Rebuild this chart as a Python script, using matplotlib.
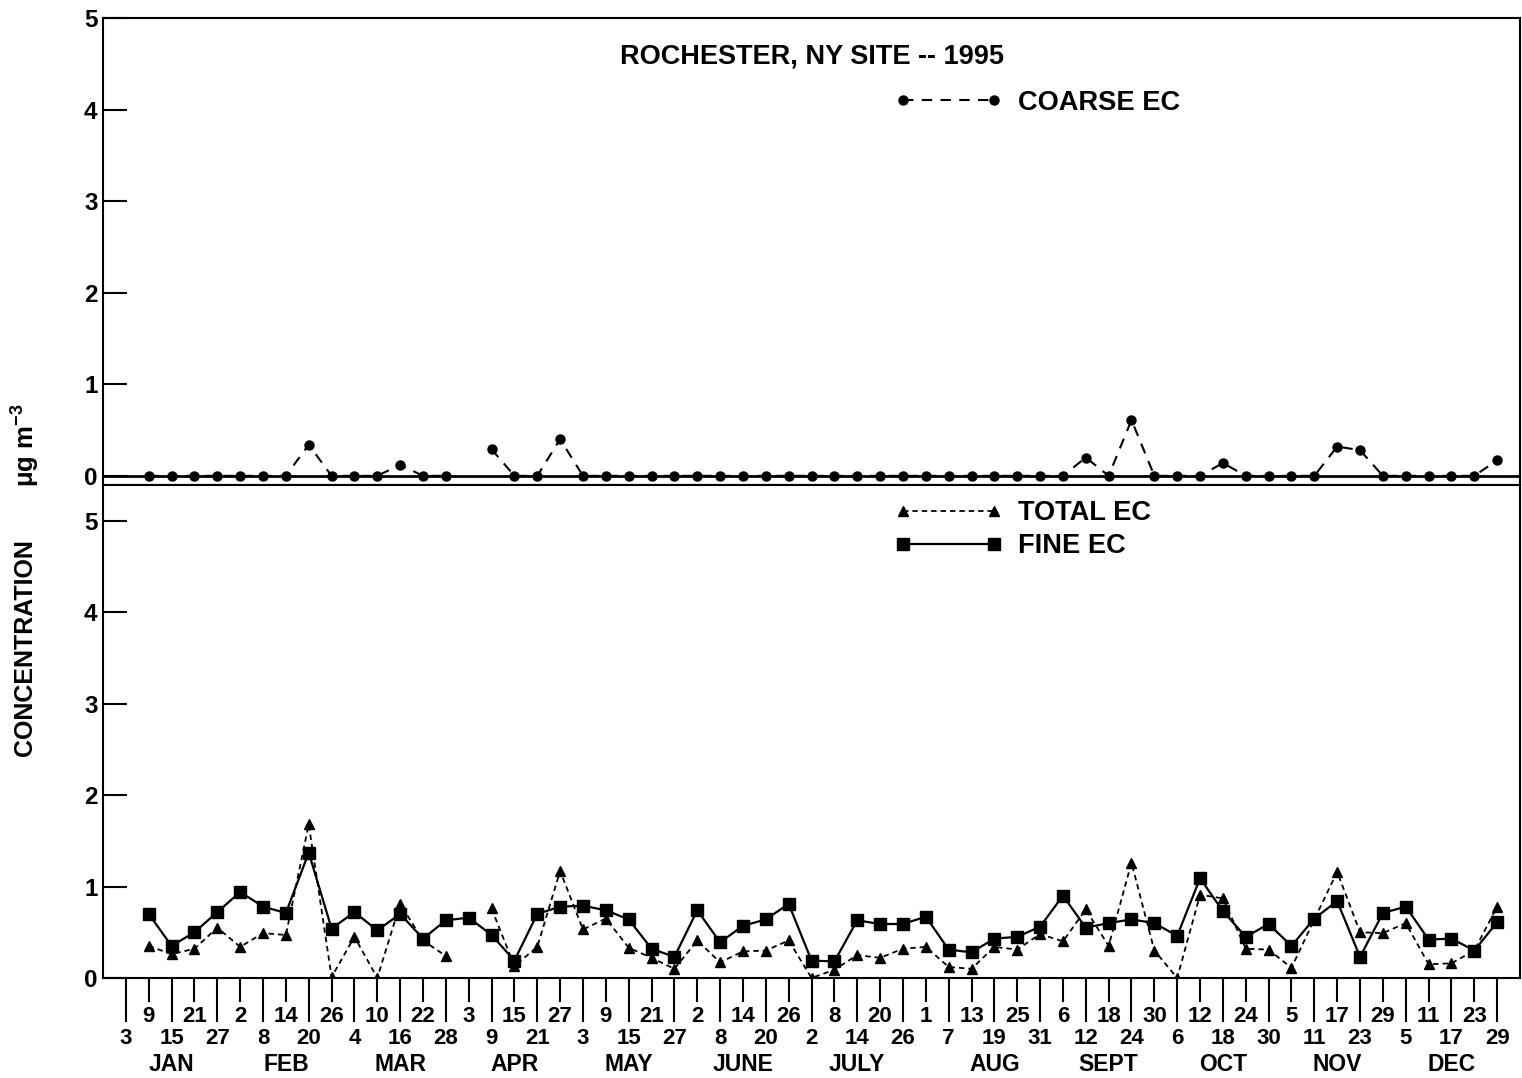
import numpy as np
import pandas as pd
import matplotlib
matplotlib.use('Agg')
import matplotlib.pyplot as plt
import matplotlib.transforms as mtransforms
from matplotlib.lines import Line2D

plt.rcParams['font.family'] = ['Liberation Sans', 'DejaVu Sans']
plt.rcParams['font.weight'] = 'bold'
plt.rcParams['mathtext.fontset'] = 'custom'
plt.rcParams['mathtext.rm'] = 'Liberation Sans:bold'

# every-6th-day sampling, Jan 3 - Dec 29 1995
dates = pd.date_range('1995-01-03', '1995-12-29', freq='6D')
month_names = ['JAN', 'FEB', 'MAR', 'APR', 'MAY', 'JUNE', 'JULY', 'AUG',
               'SEPT', 'OCT', 'NOV', 'DEC']

nan = np.nan
coarse_ec = [nan, 0, 0, 0, 0, 0, 0, 0, 0.34, 0,
             0, 0, 0.12, 0, 0, nan, 0.29, 0, 0, 0.40,
             0, 0, 0, 0, 0, 0, 0, 0, 0, 0,
             0, 0, 0, 0, 0, 0, 0, 0, 0, 0,
             0, 0, 0.20, 0, 0.61, 0, 0, 0, 0.14, 0,
             0, 0, 0, 0.32, 0.28, 0, 0, 0, 0, 0,
             0.17]
total_ec = [nan, 0.35, 0.26, 0.32, 0.55, 0.34, 0.49, 0.47, 1.68, 0.01,
            0.45, 0.00, 0.81, 0.41, 0.24, nan, 0.76, 0.13, 0.34, 1.17,
            0.53, 0.65, 0.33, 0.22, 0.10, 0.41, 0.17, 0.29, 0.30, 0.41,
            0.00, 0.09, 0.25, 0.22, 0.32, 0.34, 0.12, 0.10, 0.34, 0.31,
            0.48, 0.40, 0.75, 0.35, 1.26, 0.30, 0.00, 0.91, 0.87, 0.32,
            0.31, 0.11, 0.64, 1.16, 0.50, 0.49, 0.60, 0.15, 0.16, 0.30,
            0.78]
fine_ec = [nan, 0.70, 0.35, 0.50, 0.72, 0.94, 0.78, 0.71, 1.37, 0.54,
           0.72, 0.52, 0.70, 0.43, 0.63, 0.66, 0.47, 0.19, 0.70, 0.78,
           0.79, 0.74, 0.64, 0.32, 0.23, 0.74, 0.39, 0.57, 0.64, 0.81,
           0.19, 0.18, 0.63, 0.59, 0.59, 0.67, 0.31, 0.28, 0.43, 0.45,
           0.56, 0.90, 0.55, 0.60, 0.64, 0.60, 0.46, 1.09, 0.73, 0.45,
           0.59, 0.35, 0.65, 0.84, 0.23, 0.71, 0.78, 0.42, 0.43, 0.30,
           0.61]

day = dates.dayofyear.values

fig = plt.figure(figsize=(15.22, 10.78), dpi=100)
ax1 = fig.add_axes([0.0677, 0.5501, 0.9310, 0.4332])
ax2 = fig.add_axes([0.0677, 0.0928, 0.9310, 0.4573], sharex=ax1)

# top panel: coarse EC
ax1.axhline(0, color='k', lw=2)
ax1.plot(day, coarse_ec, color='k', ls='--', dashes=(5, 4), lw=1.5,
         marker='o', ms=6.5)
ax1.set_ylim(-0.1, 5)
ax1.set_yticks(range(6))
ax1.tick_params(axis='y', direction='in', length=17, width=1.5, pad=4,
                labelsize=17.5)
ax1.tick_params(axis='x', which='both', bottom=False, labelbottom=False)
ax1.text(0.5, 0.917, 'ROCHESTER, NY SITE -- 1995', transform=ax1.transAxes,
         ha='center', va='center', fontsize=19.5)
h_coarse = Line2D([], [], color='k', ls='--', dashes=(5, 4), lw=1.5,
                  marker='o', ms=6.5)
ax1.legend([h_coarse], ['COARSE EC'], loc='center left',
           bbox_to_anchor=(0.559, 0.818), frameon=False, numpoints=2,
           handlelength=3.95, handletextpad=0.56, borderpad=0,
           borderaxespad=0, prop={'size': 19.6, 'weight': 'bold'})

# bottom panel: total and fine EC
ax2.plot(day, total_ec, color='k', ls='--', dashes=(3, 2.2), lw=1.3,
         marker='^', ms=6.5)
ax2.plot(day, fine_ec, color='k', ls='-', lw=1.6, marker='s', ms=8.5)
ax2.set_ylim(0, 5.39)
ax2.set_yticks(range(6))
ax2.tick_params(axis='y', direction='in', length=17, width=1.5, pad=4,
                labelsize=17.5)
h_total = Line2D([], [], color='k', ls='--', dashes=(3, 2.2), lw=1.3,
                 marker='^', ms=6.5)
h_fine = Line2D([], [], color='k', ls='-', lw=1.6, marker='s', ms=8.5)
ax2.legend([h_total, h_fine], ['TOTAL EC', 'FINE EC'], loc='center left',
           bbox_to_anchor=(0.559, 0.909), frameon=False, numpoints=2,
           handlelength=3.95, handletextpad=0.56, borderpad=0,
           borderaxespad=0, labelspacing=0.25,
           prop={'size': 19.6, 'weight': 'bold'})

# staggered day-of-month tick labels
ax2.set_xlim(day[0] - 6, day[-1] + 6)
ax2.set_xticks(day[::2])
ax2.set_xticklabels([str(d) for d in dates.day[::2]])
ax2.set_xticks(day[1::2], minor=True)
ax2.set_xticklabels([str(d) for d in dates.day[1::2]], minor=True)
ax2.tick_params(axis='x', which='major', direction='out', length=32,
                width=1.5, pad=4, labelsize=16)
ax2.tick_params(axis='x', which='minor', direction='out', length=17,
                width=1.5, pad=3, labelsize=16)

# month names under the middle sample of each month
trans = mtransforms.blended_transform_factory(ax2.transData, ax2.transAxes)
for m, name in enumerate(month_names, start=1):
    sub = day[dates.month == m]
    ax2.text(sub[len(sub) // 2], -0.175, name, transform=trans,
             ha='center', va='center', fontsize=16.5)

for ax in (ax1, ax2):
    for s in ax.spines.values():
        s.set_linewidth(1.5)

fig.text(0.0164, 0.399, 'CONCENTRATION', rotation=90, ha='center',
         va='center', fontsize=18)
fig.text(0.0164, 0.587, r'μg m$^{-3}$', rotation=90, ha='center',
         va='center', fontsize=18.5)

fig.savefig('out.png', dpi=100)
